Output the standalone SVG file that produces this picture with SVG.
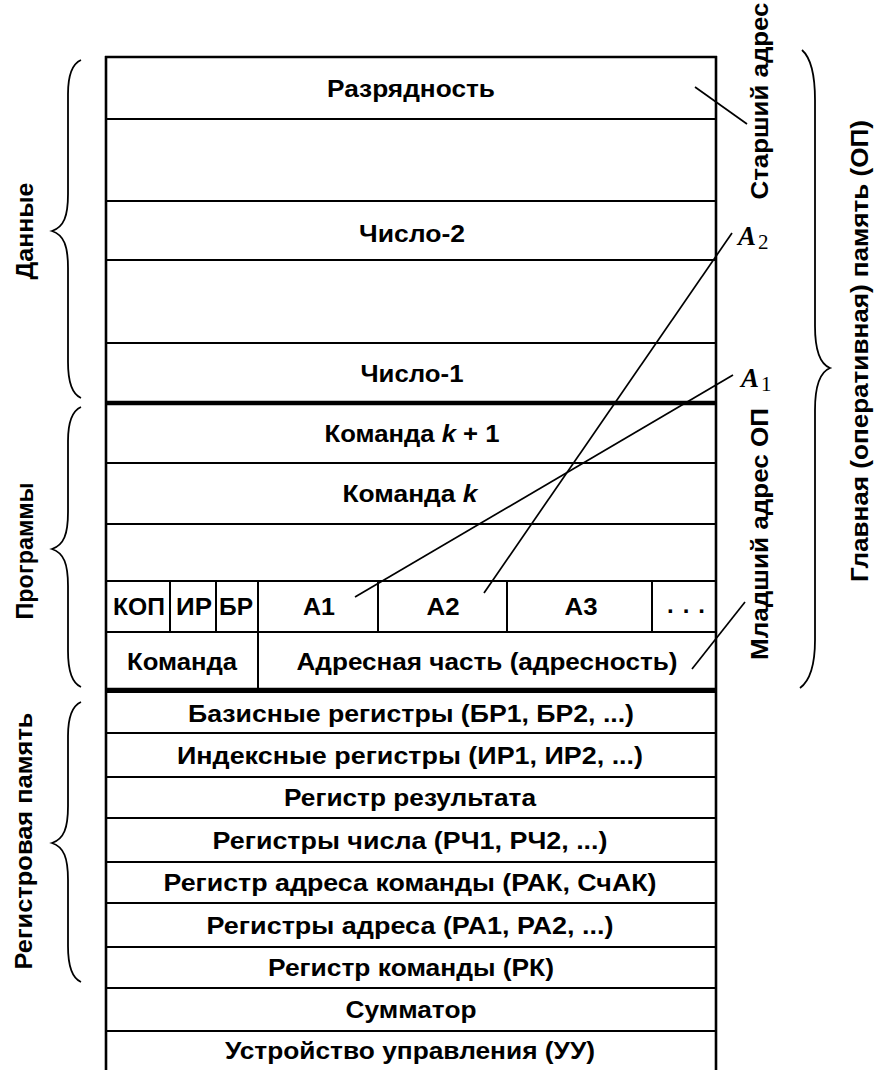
<svg xmlns="http://www.w3.org/2000/svg" width="877" height="1070" viewBox="0 0 877 1070">
<style>
.c{fill:#fff;stroke:#000;stroke-width:2}
.thk{stroke:#000;stroke-width:4.5}
.edge{stroke:#000;stroke-width:2.6;fill:none}
.t{font-family:"Liberation Sans",Arial,sans-serif;font-size:24px;font-weight:bold;fill:#000;text-anchor:middle}
.v{font-family:"Liberation Sans",Arial,sans-serif;font-size:24px;font-weight:bold;fill:#000;text-anchor:middle}
.br{stroke:#000;stroke-width:1.8;fill:none}
.cn{stroke:#000;stroke-width:1.7;fill:none}
.ai{font-family:"Liberation Serif","Times New Roman",serif;font-style:italic;font-weight:bold;font-size:27px;fill:#000}
.sub{font-family:"Liberation Serif","Times New Roman",serif;font-size:21px;fill:#000}
.it{font-style:italic}
</style>
<rect width="877" height="1070" fill="#fff"/>

<g id="data">
  <g id="row-razryadnost"><rect class="c" x="106" y="57" width="610" height="62"/><text class="t" x="411" y="97" textLength="168" lengthAdjust="spacingAndGlyphs">Разрядность</text></g>
  <g id="row-blank1"><rect class="c" x="106" y="119" width="610" height="82"/></g>
  <g id="row-chislo2"><rect class="c" x="106" y="201" width="610" height="59"/><text class="t" x="412" y="242" textLength="106" lengthAdjust="spacingAndGlyphs">Число-2</text></g>
  <g id="row-blank2"><rect class="c" x="106" y="260" width="610" height="83"/></g>
  <g id="row-chislo1"><rect class="c" x="106" y="343" width="610" height="60"/><text class="t" x="412" y="382" textLength="103" lengthAdjust="spacingAndGlyphs">Число-1</text></g>
</g>

<g id="programs">
  <g id="row-cmd-k1"><rect class="c" x="106" y="403" width="610" height="60"/><text class="t" x="412" y="442" textLength="175" lengthAdjust="spacingAndGlyphs">Команда <tspan class="it">k</tspan> + 1</text></g>
  <g id="row-cmd-k"><rect class="c" x="106" y="463" width="610" height="61"/><text class="t" x="410" y="502" textLength="135" lengthAdjust="spacingAndGlyphs">Команда <tspan class="it">k</tspan></text></g>
  <g id="row-blank3"><rect class="c" x="106" y="524" width="610" height="57"/></g>
  <g id="field-kop"><rect class="c" x="106" y="581" width="64" height="51"/><text class="t" x="139" y="615" textLength="52" lengthAdjust="spacingAndGlyphs">КОП</text></g>
  <g id="field-ir"><rect class="c" x="170" y="581" width="46" height="51"/><text class="t" x="194" y="615" textLength="36" lengthAdjust="spacingAndGlyphs">ИР</text></g>
  <g id="field-br"><rect class="c" x="216" y="581" width="42" height="51"/><text class="t" x="236" y="615" textLength="34" lengthAdjust="spacingAndGlyphs">БР</text></g>
  <g id="field-a1"><rect class="c" x="258" y="581" width="120" height="51"/><text class="t" x="319" y="615" textLength="32" lengthAdjust="spacingAndGlyphs">А1</text></g>
  <g id="field-a2"><rect class="c" x="378" y="581" width="129" height="51"/><text class="t" x="443" y="615" textLength="33" lengthAdjust="spacingAndGlyphs">А2</text></g>
  <g id="field-a3"><rect class="c" x="507" y="581" width="145" height="51"/><text class="t" x="581" y="615" textLength="33" lengthAdjust="spacingAndGlyphs">А3</text></g>
  <g id="field-dots"><rect class="c" x="652" y="581" width="64" height="51"/><text class="t" x="686" y="613" textLength="38" lengthAdjust="spacing">...</text></g>
  <g id="part-komanda"><rect class="c" x="106" y="632" width="152" height="58"/><text class="t" x="182" y="670" textLength="110" lengthAdjust="spacingAndGlyphs">Команда</text></g>
  <g id="part-address"><rect class="c" x="258" y="632" width="458" height="58"/><text class="t" x="487" y="670" textLength="381" lengthAdjust="spacingAndGlyphs">Адресная часть (адресность)</text></g>
</g>

<g id="registers">
  <g id="reg-base"><rect class="c" x="106" y="692" width="610" height="41"/><text class="t" x="411" y="722" textLength="446" lengthAdjust="spacingAndGlyphs">Базисные регистры (БР1, БР2, ...)</text></g>
  <g id="reg-index"><rect class="c" x="106" y="733" width="610" height="44"/><text class="t" x="410" y="764" textLength="466" lengthAdjust="spacingAndGlyphs">Индексные регистры (ИР1, ИР2, ...)</text></g>
  <g id="reg-result"><rect class="c" x="106" y="777" width="610" height="41"/><text class="t" x="410" y="806" textLength="252" lengthAdjust="spacingAndGlyphs">Регистр результата</text></g>
  <g id="reg-number"><rect class="c" x="106" y="818" width="610" height="44"/><text class="t" x="410" y="849" textLength="395" lengthAdjust="spacingAndGlyphs">Регистры числа (РЧ1, РЧ2, ...)</text></g>
  <g id="reg-cmdaddr"><rect class="c" x="106" y="862" width="610" height="41"/><text class="t" x="410" y="891" textLength="493" lengthAdjust="spacingAndGlyphs">Регистр адреса команды (РАК, СчАК)</text></g>
  <g id="reg-addr"><rect class="c" x="106" y="903" width="610" height="44"/><text class="t" x="410" y="934" textLength="407" lengthAdjust="spacingAndGlyphs">Регистры адреса (РА1, РА2, ...)</text></g>
  <g id="reg-cmd"><rect class="c" x="106" y="947" width="610" height="41"/><text class="t" x="411" y="976" textLength="286" lengthAdjust="spacingAndGlyphs">Регистр команды (РК)</text></g>
  <g id="adder"><rect class="c" x="106" y="988" width="610" height="43"/><text class="t" x="411" y="1018" textLength="131" lengthAdjust="spacingAndGlyphs">Сумматор</text></g>
  <g id="control"><rect class="c" x="106" y="1031" width="610" height="50"/><text class="t" x="410" y="1059" textLength="370" lengthAdjust="spacingAndGlyphs">Устройство управления (УУ)</text></g>
</g>

<g id="outline">
  <line class="thk" x1="105" y1="403" x2="717" y2="403"/>
  <line class="thk" x1="105" y1="690" x2="717" y2="690"/>
  <line class="edge" x1="106" y1="56" x2="106" y2="1075"/>
  <line class="edge" x1="716" y1="56" x2="716" y2="1075"/>
  <line class="edge" x1="105" y1="57" x2="717" y2="57"/>
</g>

<g id="braces">
  <path class="br" d="M81,60 C72,64 68,76 68,94 L68,194 C68,216 64,227 52,231 C64,235 68,246 68,268 L68,362 C68,380 72,394 81,398"/>
  <path class="br" d="M81,407 C72,411 68,423 68,441 L68,512 C68,534 64,545 52,549 C64,553 68,564 68,586 L68,651 C68,669 72,683 81,687"/>
  <path class="br" d="M81,702 C72,706 68,718 68,736 L68,806 C68,828 64,839 52,843 C64,847 68,858 68,880 L68,946 C68,964 72,978 81,982"/>
  <path class="br" d="M802,50 C811,58 815,74 815,100 L815,326 C815,350 820,364 830,368 C820,372 815,386 815,410 L815,640 C815,664 811,680 800,688"/>
</g>

<g id="labels">
  <text class="v" transform="translate(24,231) rotate(-90)" y="8.5" textLength="97" lengthAdjust="spacingAndGlyphs">Данные</text>
  <text class="v" transform="translate(24,551) rotate(-90)" y="8.5" textLength="137" lengthAdjust="spacingAndGlyphs">Программы</text>
  <text class="v" transform="translate(23,841) rotate(-90)" y="8.5" textLength="257" lengthAdjust="spacingAndGlyphs">Регистровая память</text>
  <text class="v" transform="translate(759,101) rotate(-90)" y="8.5" textLength="197" lengthAdjust="spacingAndGlyphs">Старший адрес</text>
  <text class="v" transform="translate(759,534) rotate(-90)" y="8.5" textLength="252" lengthAdjust="spacingAndGlyphs">Младший адрес ОП</text>
  <text class="v" transform="translate(859,351) rotate(-90)" y="8.5" textLength="462" lengthAdjust="spacingAndGlyphs">Главная (оперативная) память (ОП)</text>
  <text class="ai" x="738" y="245">A</text><text class="sub" x="758" y="249">2</text>
  <text class="ai" x="741" y="387">A</text><text class="sub" x="761" y="391">1</text>
</g>

<g id="connectors">
  <line class="cn" x1="484" y1="593" x2="732" y2="233"/>
  <line class="cn" x1="355" y1="597" x2="733" y2="375"/>
  <line class="cn" x1="695" y1="87" x2="747" y2="124"/>
  <line class="cn" x1="692" y1="669" x2="745" y2="602"/>
</g>
</svg>
